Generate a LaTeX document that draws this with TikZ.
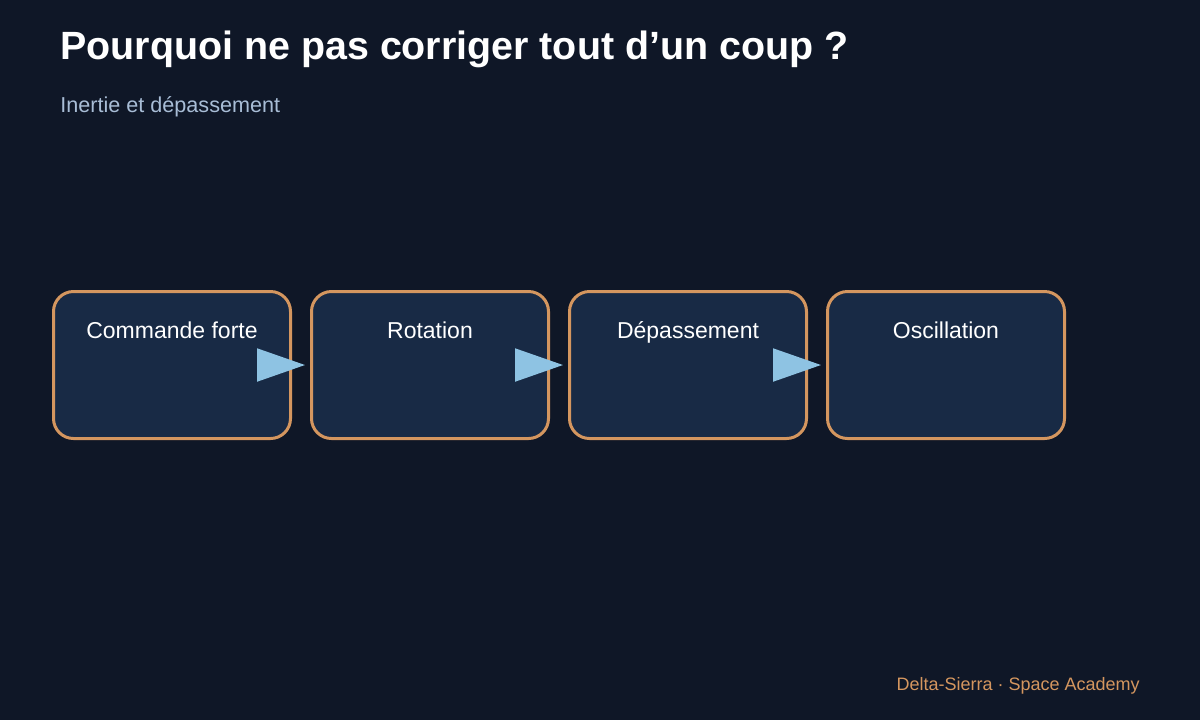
\documentclass[tikz,border=0pt]{standalone}
\usepackage{fontspec}
\setmainfont{Liberation Sans}
\usetikzlibrary{arrows.meta}

\definecolor{bgc}{HTML}{0F1727}
\definecolor{boxc}{HTML}{182A45}
\definecolor{edgec}{HTML}{D4965F}
\definecolor{flowc}{HTML}{8EC3E3}
\definecolor{subc}{HTML}{A8BDD6}

\begin{document}
\begin{tikzpicture}[x=0.5pt,y=-0.5pt]
\tikzstyle{step box}=[draw=edgec,fill=boxc,line width=1.5pt,rounded corners=10pt,minimum width=118.5pt,minimum height=73.5pt];
\tikzstyle{lbl}=[text=white,font=\fontsize{11.5}{13}\selectfont,anchor=base];
\tikzstyle{dir}=[draw=flowc,line width=1pt,-{Triangle[length=24pt,width=16.5pt]},shorten >=2.5pt];

\fill[bgc] (0,0) rectangle (1200,720);

\node [text=white,inner sep=0pt,font=\fontsize{19.7}{24}\selectfont\bfseries,anchor=base west] (title) at (60,59) {Pourquoi ne pas corriger tout d’un coup ?};
\node [text=subc,inner sep=0pt,font=\fontsize{10.8}{13}\selectfont,anchor=base west] (sub) at (60,112) {Inertie et dépassement};

\node [step box] (c1) at (172,365) {};
\node [step box] (c2) at (430,365) {};
\node [step box] (c3) at (688,365) {};
\node [step box] (c4) at (946,365) {};

\node [lbl] (t1) at (172,338) {Commande forte};
\node [lbl] (t2) at (430,338) {Rotation};
\node [lbl] (t3) at (688,338) {Dépassement};
\node [lbl] (t4) at (946,338) {Oscillation};

\draw [dir] (c1.east) -- (c2.west);
\draw [dir] (c2.east) -- (c3.west);
\draw [dir] (c3.east) -- (c4.west);

\node [text=edgec,inner sep=0pt,font=\fontsize{9}{11}\selectfont,anchor=base east] (foot) at (1140,690) {Delta-Sierra · Space Academy};
\end{tikzpicture}
\end{document}
